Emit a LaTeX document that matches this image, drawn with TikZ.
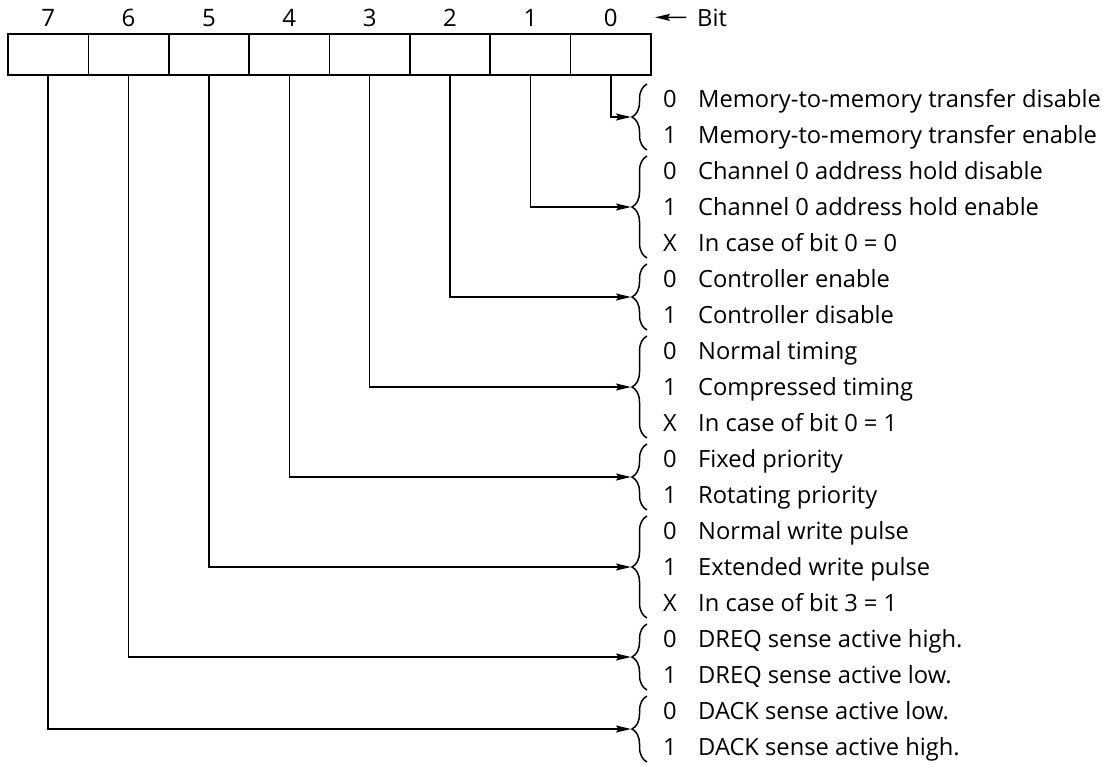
\documentclass[tikz,border=0pt]{standalone}
\usepackage{fontspec}
\setmainfont{Open Sans}
\usetikzlibrary{arrows.meta,decorations.pathreplacing}
\begin{document}
\begin{tikzpicture}[x=1pt,y=-1pt,
  cell/.style={draw, line width=1.6pt, minimum width=80.4pt, minimum height=41pt, inner sep=0pt, outer sep=0pt},
  lbl/.style={font=\fontsize{24}{28}\selectfont, inner sep=0pt, anchor=base},
  txt/.style={font=\fontsize{23.7}{28}\selectfont, inner sep=0pt, anchor=base west},
  conn/.style={line width=1.6pt, -{Stealth[length=15pt,width=7pt,inset=2.5pt]}},
  brc/.style={line width=1.5pt, decorate, decoration={brace, amplitude=15pt}}
]
\useasboundingbox (0,0) rectangle (1102,764);
% register
\foreach \b in {0,...,7} {
  \pgfmathsetmacro\cx{8+80.375*(7-\b)+40.1875}
  \node[cell] (c\b) at (\cx,54.5) {};
  \node[lbl] (n\b) at (\cx,26) {\b};
}
% bit legend
\node[txt] (bitw) at (697,26) {Bit};
\coordinate (bita) at (655,17.3);
\draw[conn] ([xshift=-11pt]bitw.west) -- (bita);
% braces and connectors
\foreach \b/\f/\l in {0/0/1,1/2/4,2/5/6,3/7/9,4/10/11,5/12/14,6/15/16,7/17/18} {
  \pgfmathsetmacro\yt{99+36*\f-15}
  \pgfmathsetmacro\yb{99+36*\l+15}
  \pgfmathsetmacro\ym{99+18*(\f+\l)}
  \draw[brc] (647,\yb) -- (647,\yt);
  \coordinate (b\b) at (631,\ym);
  \draw[conn] (c\b.south) |- (b\b);
}
% texts
\foreach \r/\d/\t in {
  0/0/Memory-to-memory transfer disable,
  1/1/Memory-to-memory transfer enable,
  2/0/Channel 0 address hold disable,
  3/1/Channel 0 address hold enable,
  4/X/In case of bit 0 = 0,
  5/0/Controller enable,
  6/1/Controller disable,
  7/0/Normal timing,
  8/1/Compressed timing,
  9/X/In case of bit 0 = 1,
  10/0/Fixed priority,
  11/1/Rotating priority,
  12/0/Normal write pulse,
  13/1/Extended write pulse,
  14/X/In case of bit 3 = 1,
  15/0/DREQ sense active high.,
  16/1/DREQ sense active low.,
  17/0/DACK sense active low.,
  18/1/DACK sense active high.} {
  \pgfmathsetmacro\yy{107.5+36*\r}
  \node[txt] (d\r) at (663,\yy) {\d};
  \node[txt] (t\r) at (698,\yy) {\t};
}
\end{tikzpicture}
\end{document}
